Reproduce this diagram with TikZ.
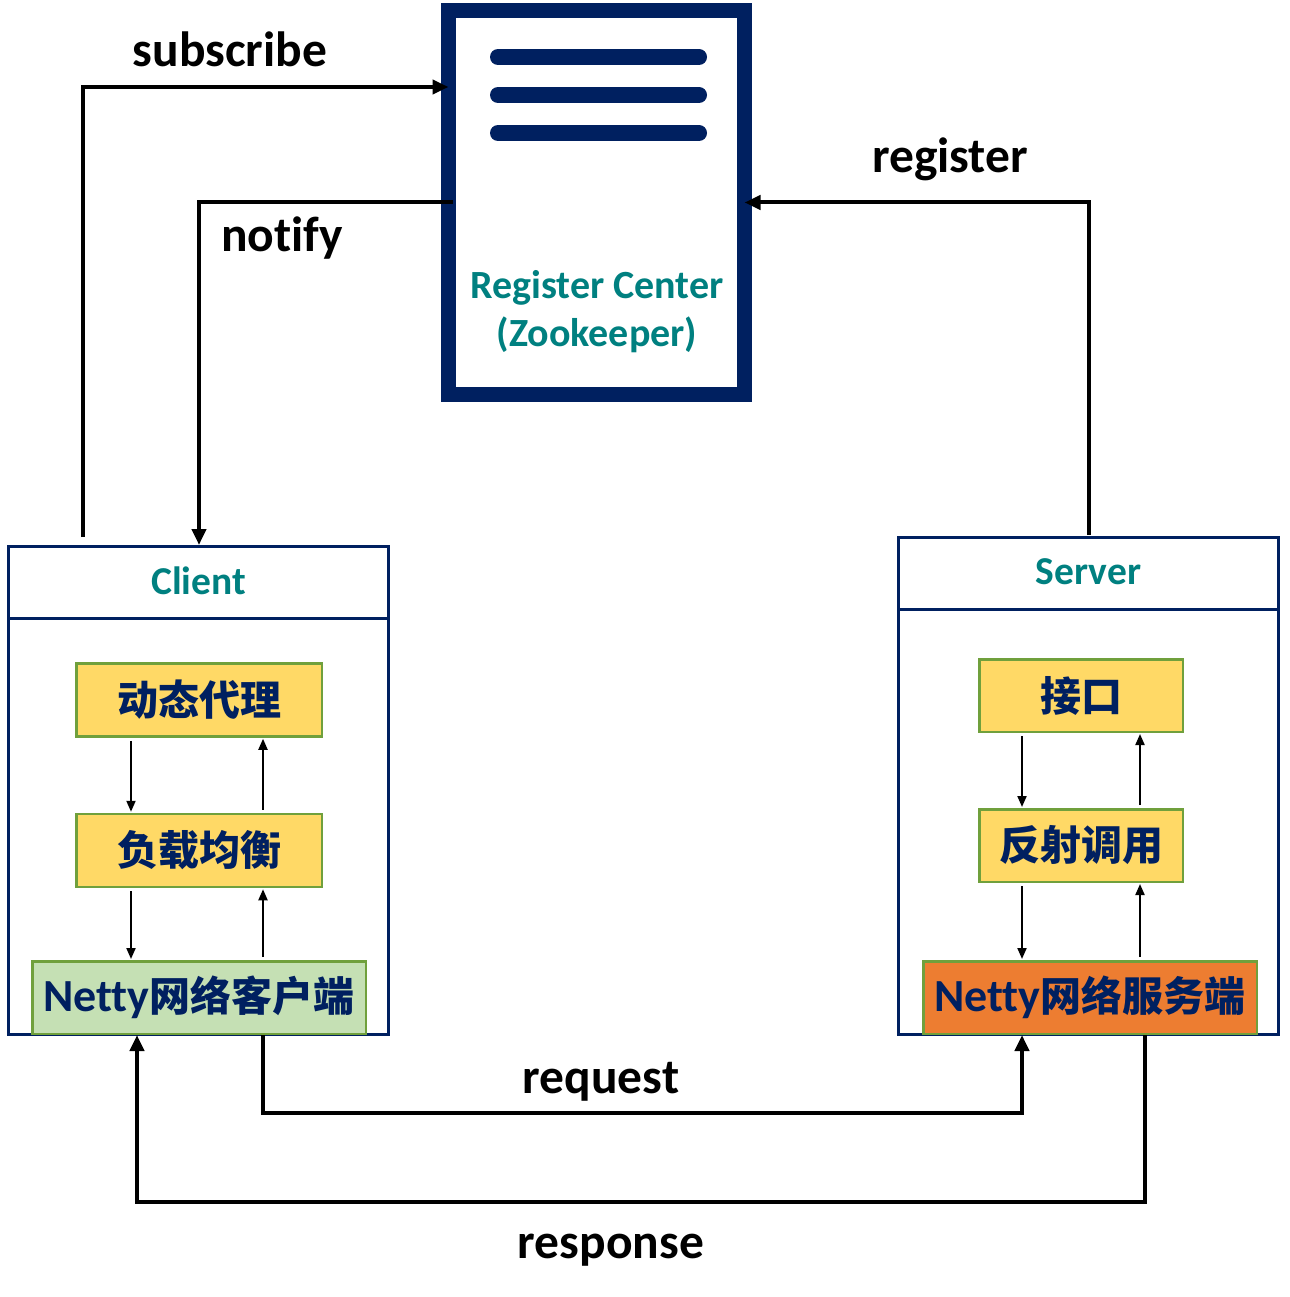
\documentclass[tikz,border=0pt]{standalone}
\usepackage{fontspec}
\setmainfont{Carlito}[Ligatures=NoCommon]
\newfontfamily\cjk{Noto Sans CJK SC}
\usetikzlibrary{arrows.meta}
\definecolor{navy}{RGB}{0,32,96}
\definecolor{teal2}{RGB}{0,128,128}
\definecolor{yel}{RGB}{255,217,102}
\definecolor{grn}{RGB}{112,160,60}
\definecolor{lgrn}{RGB}{197,224,180}
\definecolor{org}{RGB}{237,125,49}
\tikzset{
  panel/.style={draw=navy,line width=3pt,fill=white,inner sep=0pt,minimum width=380pt},
  comp/.style={draw=grn,line width=2.5pt,inner sep=0pt,minimum height=73pt,text=navy,font=\cjk\bfseries\fontsize{41}{44}\selectfont},
  lbl/.style={font=\bfseries\fontsize{49.5}{52}\selectfont,anchor=base,inner sep=0pt},
  tealtxt/.style={font=\bfseries\fontsize{40}{42}\selectfont,text=teal2,inner sep=0pt},
  big/.style={line width=4pt,-{Triangle[length=16pt,width=14pt]}},
  small/.style={line width=2pt,-{Triangle[length=11pt,width=9pt]},shorten <=3pt,shorten >=1pt},
}
\begin{document}
\begin{tikzpicture}[x=1pt,y=-1pt]
\useasboundingbox (0,0) rectangle (1289,1297);
% register center
\node[draw=navy,line width=15pt,fill=white,minimum width=296pt,minimum height=384pt,inner sep=0pt,outer sep=0pt] (rc) at (596.5,202.5) {};
\draw[navy,line width=16pt,line cap=round] (498,57) -- (699,57);
\draw[navy,line width=16pt,line cap=round] (498,95) -- (699,95);
\draw[navy,line width=16pt,line cap=round] (498,133) -- (699,133);
\node[tealtxt] (rct1) at (597,288) {Register Center};
\node[tealtxt] (rct2) at (597,335) {(Zookeeper)};
% client panel
\node[panel,minimum height=488pt] (client) at (198.5,790.5) {};
\draw[navy,line width=3pt] ([yshift=-73.5pt]client.north west) -- ([yshift=-73.5pt]client.north east);
\node[tealtxt,font=\bfseries\fontsize{39.5}{42}\selectfont] (clientt) at (198.5,581) {Client};
% server panel
\node[panel,minimum height=497pt] (server) at (1088.5,786) {};
\draw[navy,line width=3pt] ([yshift=-73.5pt]server.north west) -- ([yshift=-73.5pt]server.north east);
\node[tealtxt,font=\bfseries\fontsize{39.5}{42}\selectfont] (servert) at (1088.5,572) {Server};
% client components
\node[comp,fill=yel,minimum width=245.5pt] (dt) at (199,700) {动态代理};
\node[comp,fill=yel,minimum width=245.5pt] (fz) at (199,850.5) {负载均衡};
\node[comp,fill=lgrn,minimum width=333.5pt,minimum height=72.5pt] (nc) at (199,997.5) {{\rmfamily\fontsize{46}{48}\selectfont Netty}网络客户端};
% server components
\node[comp,fill=yel,minimum width=203.5pt,minimum height=72.5pt] (jk) at (1081,695.5) {接口};
\node[comp,fill=yel,minimum width=203.5pt,minimum height=72.5pt] (fs) at (1081,845.5) {反射调用};
\node[comp,fill=org,minimum width=333.5pt,minimum height=72.5pt] (ns) at (1090,997.5) {{\rmfamily\fontsize{46}{48}\selectfont Netty}网络服务端};
% small arrows client
\draw[small] ([xshift=-68pt]dt.south) -- ([xshift=-68pt]fz.north);
\draw[small] ([xshift=64pt]fz.north) -- ([xshift=64pt]dt.south);
\draw[small] ([xshift=-68pt]fz.south) -- ([xshift=-68pt]nc.north);
\draw[small] ([xshift=64pt]nc.north) -- ([xshift=64pt]fz.south);
% small arrows server
\draw[small] ([xshift=-59pt]jk.south) -- ([xshift=-59pt]fs.north);
\draw[small] ([xshift=59pt]fs.north) -- ([xshift=59pt]jk.south);
\draw[small] ([xshift=-59pt]fs.south) -- ([xshift=-68pt]ns.north);
\draw[small] ([xshift=50pt]ns.north) -- ([xshift=59pt]fs.south);
% big connectors
\draw[big] ([xshift=-115.5pt,yshift=8pt]client.north) |- ([yshift=115.5pt]rc.west);
\draw[big] ([xshift=4pt]rc.west) -| ([xshift=0.5pt]client.north);
\draw[big] ([yshift=1pt]server.north) |- (rc.east);
\draw[big] ([xshift=64pt]nc.south) -- ++(0,78) -| ([xshift=-68pt]ns.south);
\draw[big] ([xshift=55pt]ns.south) -- ++(0,167) -| ([xshift=-62pt]nc.south);
% labels
\node[lbl] (lsub) at (230,66.5) {subscribe};
\node[lbl] (lnot) at (282,251.5) {notify};
\node[lbl] (lreg) at (950,173) {register};
\node[lbl] (lreq) at (601,1093) {request};
\node[lbl] (lres) at (611,1258) {response};
\end{tikzpicture}
\end{document}
